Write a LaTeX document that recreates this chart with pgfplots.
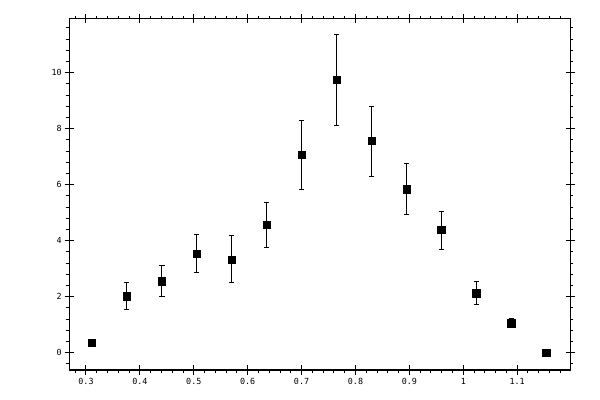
\documentclass[border=0pt]{standalone}
\usepackage{fontspec}
\setmonofont{DejaVu Sans Mono}
\usepackage{pgfplots}
\pgfplotsset{compat=1.18}
\pgfplotstableread{
x y e
0.311 0.35 0.08
0.376 2.02 0.47
0.441 2.55 0.55
0.505 3.53 0.68
0.570 3.33 0.84
0.635 4.56 0.82
0.700 7.07 1.24
0.765 9.74 1.61
0.830 7.56 1.25
0.895 5.84 0.91
0.959 4.38 0.68
1.024 2.12 0.41
1.089 1.05 0.16
1.154 0.00 0.00
}\datatab
\begin{document}
\begin{tikzpicture}
\pgfplotsset{
  common/.style={
    scale only axis, width=375.75pt, height=263.25pt,
    xmin=0.2685, xmax=1.198, ymin=-0.62, ymax=11.92,
    at={(0,0)}, anchor=south west,
    axis line style={line width=0.75pt, black},
    every tick/.style={line width=0.75pt, black},
  }
}
\begin{axis}[common,
  tick align=outside, major tick length=0pt, minor tick length=2.5pt,
  xtick={0.3}, ytick={0}, xticklabels={}, yticklabels={},
  minor xtick={0.28,0.30,0.32,0.34,0.36,0.38,0.40,0.42,0.44,0.46,0.48,0.50,0.52,0.54,0.56,0.58,0.60,0.62,0.64,0.66,0.68,0.70,0.72,0.74,0.76,0.78,0.80,0.82,0.84,0.86,0.88,0.90,0.92,0.94,0.96,0.98,1.00,1.02,1.04,1.06,1.08,1.10,1.12,1.14,1.16,1.18},
  minor ytick={-0.4,0,0.4,0.8,1.2,1.6,2,2.4,2.8,3.2,3.6,4,4.4,4.8,5.2,5.6,6,6.4,6.8,7.2,7.6,8,8.4,8.8,9.2,9.6,10,10.4,10.8,11.2,11.6},
]
\end{axis}
\begin{axis}[common,
  tick align=center, major tick length=6.75pt,
  xtick={0.3,0.4,0.5,0.6,0.7,0.8,0.9,1,1.1},
  xticklabels={0.3,0.4,0.5,0.6,0.7,0.8,0.9,1,1.1},
  ytick={0,2,4,6,8,10},
  yticklabels={0,2,4,6,8,10},
  ticklabel style={font=\ttfamily\fontsize{6.3}{7}\selectfont},
  xticklabel style={yshift=0.5pt},
  yticklabel style={anchor=east, xshift=1.5pt},
]
\addplot+[only marks, mark=square*, black, mark size=2.75pt,
  mark options={fill=black, draw=black},
  error bars/.cd, y dir=both, y explicit,
  error bar style={line width=0.75pt, black},
  error mark options={rotate=90, mark size=1.9pt, line width=0.75pt, black}]
  table[x=x, y=y, y error=e] {\datatab};
\end{axis}
\pgfresetboundingbox
\path[use as bounding box] (-51.75pt,-22.5pt) rectangle (398.25pt,277.5pt);
\end{tikzpicture}
\end{document}
